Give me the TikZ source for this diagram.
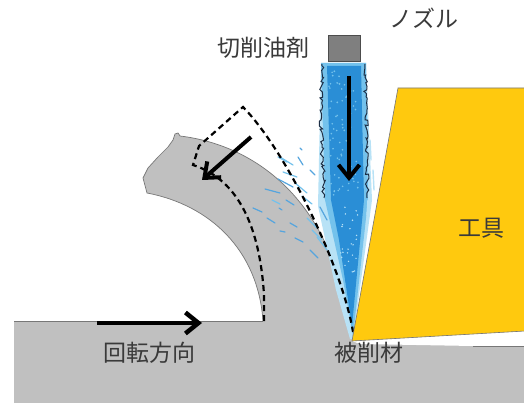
\documentclass[tikz,border=0pt]{standalone}
\usepackage{fontspec}
\newfontfamily\jp{Noto Sans CJK JP}
\usetikzlibrary{arrows.meta,decorations.pathmorphing}
\definecolor{wp}{HTML}{C0C0C0}
\definecolor{wpedge}{HTML}{777777}
\definecolor{toolc}{HTML}{FFC90E}
\definecolor{jetcore}{HTML}{2A8ED6}
\definecolor{jetlight}{HTML}{74C2EC}
\definecolor{jetpale}{HTML}{B8E2F6}
\definecolor{jetedge}{HTML}{1C2E45}
\definecolor{nozz}{HTML}{7F7F7F}
\definecolor{txt}{HTML}{3A3A3A}
\begin{document}
\begin{tikzpicture}[x=1pt,y=-1pt,
  lbl/.style={font=\jp\fontsize{23}{23}\selectfont, text=txt, inner sep=0pt},
  bigarrow/.style={line width=4.5pt, -{Straight Barb[length=13pt,width=21pt]}},
  chipdash/.style={line width=2.2pt, dash pattern=on 6pt off 4pt},
  edge/.style={draw=wpedge, line width=0.7pt},
  splA/.style={draw=jetlight, line width=1.2pt, line cap=round},
  splB/.style={draw=jetcore!80!white, line width=1.2pt, line cap=round},
  splC/.style={draw=jetpale, line width=1.4pt, line cap=round},
  jag/.style={draw=jetedge, line width=1pt, decorate, decoration={random steps, segment length=2.5pt, amplitude=2pt}}]
\useasboundingbox (0,0) rectangle (524,403);
\fill[white] (0,0) rectangle (524,403);
\pgfmathsetseed{7}
% workpiece base
\fill[wp] (14,321) rectangle (524,403);
\draw[edge] (14,321) -- (263,321);
% chip
\fill[wp] (263,321) .. controls (258,250) and (210,205) .. (147,193)
  -- (143,178) -- (148,168) -- (158,157) -- (168,147) -- (173,140) -- (175,134)
  -- (178,133) -- (180,136)
  .. controls (255,145) and (335,200) .. (351,337) -- (351,321) -- cycle;
\draw[edge] (263,321) .. controls (258,250) and (210,205) .. (147,193)
  -- (143,178) -- (148,168) -- (158,157) -- (168,147) -- (173,140) -- (175,134)
  -- (178,133) -- (180,136)
  .. controls (255,145) and (335,200) .. (351,337);
% coolant jet
\fill[jetpale] (321,63) -- (366,63) -- (372,200) -- (353,339) -- (350,339) -- (336,290) -- (318,206) -- cycle;
\fill[jetlight] (321,63) -- (366,63) -- (368,200) -- (353,336) -- (343,280) -- (325,200) -- cycle;
\fill[jetcore] (327,66) -- (361,66) -- (364,200) -- (352,326) -- (339,240) -- (331,200) -- cycle;
\foreach \i in {1,...,70} {
  \fill[jetlight] ({329+30*rnd},{70+125*rnd}) circle (0.9pt);
}
\foreach \i in {1,...,25} {
  \fill[jetpale] ({340+18*rnd},{205+70*rnd}) circle (0.8pt);
}
\draw[jag] (322,64) -- (321,120) -- (324,198);
\draw[jag] (365,64) -- (367,130) -- (367,198);
% splashes
\draw[splA] (280,157) -- (293,165);
\draw[splB] (298,157) -- (303,165);
\draw[splA] (283,172) -- (297,177);
\draw[splB] (278,179) -- (293,187);
\draw[splB] (265,189) -- (280,193);
\draw[splA] (295,183) -- (307,193);
\draw[splB] (253,208) -- (262,212);
\draw[splB] (267,218) -- (275,223);
\draw[splB] (279,208) -- (282,210);
\draw[splB] (290,223) -- (297,227);
\draw[splB] (280,231) -- (285,232);
\draw[splB] (295,238) -- (303,242);
\draw[splA] (307,218) -- (317,228);
\draw[splA] (312,230) -- (322,240);
\draw[splB] (320,207) -- (327,220);
\draw[splB] (300,148) -- (302,150);
\draw[splA] (317,237) -- (327,250);
\draw[splA] (278,157) -- (287,162);
\draw[splB] (310,170) -- (315,175);
\draw[splA] (302,196) -- (312,204);
\draw[splB] (286,200) -- (294,205);
\draw[splA] (272,200) -- (280,204);
\draw[splC] (370,140) -- (371,160);
\draw[splC] (373,170) -- (374,190);
\draw[splC] (368,200) -- (367,215);
\draw[splB] (310,250) -- (318,258);
% dashed previous chip outline
\draw[chipdash] (264,321) -- (264,295) .. controls (260,230) and (240,180) .. (193,165)
  -- (199,146) -- (243,107) .. controls (288,153) and (343,270) .. (353,332);
% tool
\fill[white] (352,341) -- (524,331) -- (524,346) -- (473,346) -- (360,344) -- cycle;
\draw[edge] (473,346) -- (524,346);
\path[fill=toolc, draw=wpedge, line width=0.6pt] (398,88) -- (525,88) -- (525,331) -- (352,341) -- cycle;
% nozzle
\node[draw=black!70, fill=nozz, line width=0.8pt, minimum width=32pt, minimum height=26pt, inner sep=0pt] (nozzle) at (344.5,48.5) {};
% arrows
\coordinate (jetS) at (349,76);
\coordinate (jetE) at (349,181);
\draw[bigarrow, line width=4pt] (jetS) -- (jetE);
\coordinate (chipS) at (251,137);
\coordinate (chipE) at (202,180);
\draw[bigarrow, line width=4pt] (chipS) -- (chipE);
\coordinate (rotS) at (97,323);
\coordinate (rotE) at (202,323);
\draw[bigarrow] (rotS) -- (rotE);
% labels
\node[lbl] (lcool) at (263,48) {切削油剤};
\node[lbl] (lnoz) at (424,18) {ノズル};
\node[lbl] (lrot) at (149,353) {回転方向};
\node[lbl] (lwork) at (369,353) {被削材};
\node[lbl] (ltool) at (481,228) {工具};
\end{tikzpicture}
\end{document}
